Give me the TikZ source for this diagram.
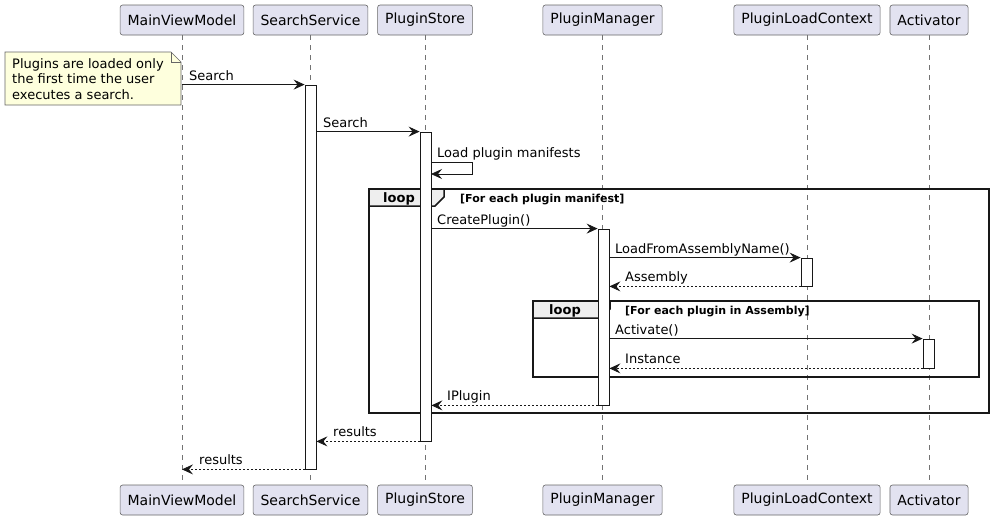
\documentclass[tikz,border=0pt]{standalone}
\usepackage{fontspec}
\setmainfont{DejaVu Sans}
\usetikzlibrary{arrows.meta}
\definecolor{partfill}{HTML}{E2E2F0}
\definecolor{notefill}{HTML}{FEFFDD}
\definecolor{framehead}{HTML}{EEEEEE}
\definecolor{lineclr}{HTML}{181818}
\tikzset{
  part/.style={draw=black!60, fill=partfill, rounded corners=2.5pt, minimum height=30pt,
    inner xsep=7.5pt, font=\fontsize{14}{16}\selectfont, line width=0.6pt},
  lifeline/.style={draw=black!55, dash pattern=on 5pt off 5pt, line width=0.6pt},
  act/.style={draw=lineclr, fill=white, minimum width=11pt, inner sep=0pt, line width=0.8pt},
  msg/.style={draw=lineclr, line width=0.8pt, -{Stealth[length=11pt,width=10pt,inset=4pt]}},
  ret/.style={msg, dash pattern=on 2pt off 2pt},
  lbl/.style={anchor=base west, font=\fontsize{13}{15}\selectfont, inner sep=0pt},
  framebox/.style={draw=lineclr, line width=1.5pt},
  framehd/.style={draw=lineclr, line width=1.5pt, fill=framehead},
  looplbl/.style={anchor=base west, font=\bfseries\fontsize{13}{15}\selectfont, inner sep=0pt},
  condlbl/.style={anchor=base west, font=\bfseries\fontsize{11}{13}\selectfont, inner sep=0pt},
  notebox/.style={draw=black!60, fill=notefill, line width=0.6pt},
  notetxt/.style={anchor=north west, align=left, inner sep=0pt, font=\fontsize{13}{15.5}\selectfont}
}
\begin{document}
\begin{tikzpicture}[x=1pt, y=-1pt]
\useasboundingbox (0,0) rectangle (993,522);
% participants
\node[part] (p1) at (182,20) {MainViewModel};
\node[part] (p2) at (310.5,20) {SearchService};
\node[part] (p3) at (425,20) {PluginStore};
\node[part] (p4) at (602.5,20) {PluginManager};
\node[part] (p5) at (807,20) {PluginLoadContext};
\node[part] (p6) at (929,20) {Activator};
\node[part] (q1) at (182,500) {MainViewModel};
\node[part] (q2) at (310.5,500) {SearchService};
\node[part] (q3) at (425,500) {PluginStore};
\node[part] (q4) at (602.5,500) {PluginManager};
\node[part] (q5) at (807,500) {PluginLoadContext};
\node[part] (q6) at (929,500) {Activator};
% lifelines
\foreach \i in {1,...,6} { \draw[lifeline] (p\i.south) -- (q\i.north); }
% note
\draw[notebox] (5,52) -- (171,52) -- (181,62) -- (181,105) -- (5,105) -- cycle;
\draw[notebox, fill=none] (171,52) -- (171,62) -- (181,62);
\node[notetxt] (note) at (12,58) {Plugins are loaded only\\the first time the user\\executes a search.};
% outer loop frame
\draw[framebox] (369,189) rectangle (989,413);
\draw[framehd] (369,189) -- (444,189) -- (444,197) -- (435,206) -- (369,206) -- cycle;
\node[looplbl] (loop1) at (383,202) {loop};
\node[condlbl] (cond1) at (460,202) {[For each plugin manifest]};
% inner loop frame
\draw[framebox] (533,301) rectangle (979,377);
\draw[framehd] (533,301) -- (610,301) -- (610,309) -- (601,318) -- (533,318) -- cycle;
\node[looplbl] (loop2) at (549,314) {loop};
\node[condlbl] (cond2) at (625,314) {[For each plugin in Assembly]};
% activations
\node[act, minimum height=384pt] (A1) at (310.5,277) {};
\node[act, minimum height=309pt] (A2) at (425.5,286.5) {};
\node[act, minimum height=176pt] (A3) at (603.5,317) {};
\node[act, minimum height=28pt] (A4) at (806.5,272) {};
\node[act, minimum height=29pt] (A5) at (928.5,353.5) {};
% messages
\draw[msg] (p1 |- A1.north) -- (A1.north west);
\node[lbl] (m1) at (189,80) {Search};
\draw[msg] (A1.east |- A2.north) -- (A2.north west);
\node[lbl] (m2) at (323,127) {Search};
\coordinate (s1) at (431,162);
\coordinate (s2) at (431,174);
\draw[msg] (s1) -- (472,162) -- (472,174) -- (s2);
\node[lbl] (m3) at (437,157) {Load plugin manifests};
\draw[msg] (A2.east |- A3.north) -- (A3.north west);
\node[lbl] (m4) at (437,224) {CreatePlugin()};
\draw[msg] (A3.east |- A4.north) -- (A4.north west);
\node[lbl] (m5) at (615,253) {LoadFromAssemblyName()};
\draw[ret] (A4.south west) -- (A3.east |- A4.south);
\node[lbl] (m6) at (625,281) {Assembly};
\draw[msg] (A3.east |- A5.north) -- (A5.north west);
\node[lbl] (m7) at (615,334) {Activate()};
\draw[ret] (A5.south west) -- (A3.east |- A5.south);
\node[lbl] (m8) at (625,363) {Instance};
\draw[ret] (A3.south west) -- (A2.east |- A3.south);
\node[lbl] (m9) at (447,400) {IPlugin};
\draw[ret] (A2.south west) -- (A1.east |- A2.south);
\node[lbl] (m10) at (333,436) {results};
\draw[ret] (A1.south west) -- (q1 |- A1.south);
\node[lbl] (m11) at (199,464) {results};
\end{tikzpicture}
\end{document}
